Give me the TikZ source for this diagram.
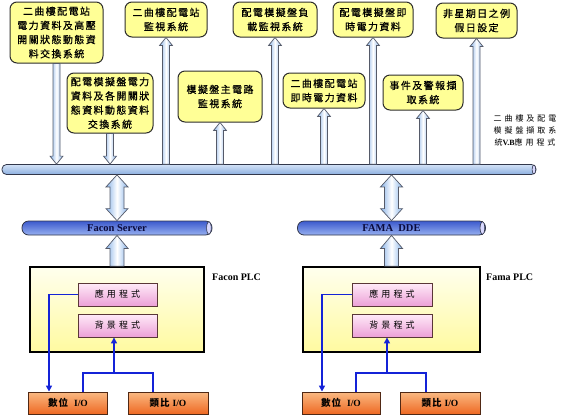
\documentclass[tikz,border=0pt]{standalone}
\usepackage{fontspec}
\setmainfont{Liberation Serif}
\newfontfamily\cjkA[LetterSpace=14,FakeBold=0.6]{Noto Sans CJK TC}
\newfontfamily\cjkS[LetterSpace=37]{Noto Sans CJK TC}
\newfontfamily\cjkP[LetterSpace=35]{Noto Sans CJK TC}
\newfontfamily\cjkO[LetterSpace=10]{Noto Sans CJK TC}
\usetikzlibrary{arrows.meta,calc}
\definecolor{boxyellow}{RGB}{255,255,150}
\definecolor{boxline}{RGB}{45,45,45}
\definecolor{pipeline}{RGB}{50,55,75}
\definecolor{busT}{RGB}{210,226,246}
\definecolor{busB}{RGB}{140,175,224}
\definecolor{srvT}{RGB}{60,90,205}
\definecolor{srvB}{RGB}{150,175,240}
\definecolor{navy}{RGB}{10,10,60}
\definecolor{plcT}{RGB}{255,255,238}
\definecolor{plcB}{RGB}{255,250,160}
\definecolor{progline}{RGB}{90,55,55}
\definecolor{progT}{RGB}{255,235,248}
\definecolor{progB}{RGB}{236,160,215}
\definecolor{ioline}{RGB}{80,40,20}
\definecolor{ioT}{RGB}{250,185,130}
\definecolor{ioB}{RGB}{238,105,35}
\definecolor{arrline}{RGB}{85,90,105}
\definecolor{arrB}{RGB}{135,178,232}
\definecolor{wire}{RGB}{20,35,215}
\newcommand\fatup[5]{\path[fatarr] let \p1=(#1), \p2=(#2) in
  (\x1-#3,\y1) -- (\x1-#3,\y2-#5) -- (\x1-#4,\y2-#5) -- (\x1,\y2) --
  (\x1+#4,\y2-#5) -- (\x1+#3,\y2-#5) -- (\x1+#3,\y1) -- cycle;}
\newcommand\fatdn[5]{\path[fatarr] let \p1=(#1), \p2=(#2) in
  (\x1-#3,\y1) -- (\x1-#3,\y2+#5) -- (\x1-#4,\y2+#5) -- (\x1,\y2) --
  (\x1+#4,\y2+#5) -- (\x1+#3,\y2+#5) -- (\x1+#3,\y1) -- cycle;}
\newcommand\fatboth[5]{\path[fatarr] let \p1=(#1), \p2=(#2) in
  (\x1,\y1) -- (\x1-#4,\y1+#5) -- (\x1-#3,\y1+#5) -- (\x1-#3,\y2-#5) --
  (\x1-#4,\y2-#5) -- (\x1,\y2) -- (\x1+#4,\y2-#5) -- (\x1+#3,\y2-#5) --
  (\x1+#3,\y1+#5) -- (\x1+#4,\y1+#5) -- cycle;}
\tikzset{
  tbox/.style={draw=boxline, line width=1pt, rounded corners=7pt, fill=boxyellow,
    align=center, inner sep=0pt, font=\cjkA\fontsize{10}{14.2}\selectfont},
  pipe/.style={draw=pipeline, line width=0.8pt, inner sep=0pt},
  bus/.style={pipe, rounded corners=4.5pt, top color=busT, bottom color=busB},
  srv/.style={pipe, rounded corners=6.5pt, top color=srvT, bottom color=srvB,
    font=\bfseries\fontsize{10.5}{12}\selectfont, text=navy},
  plc/.style={draw=black, line width=1.8pt, top color=plcT, bottom color=plcB, inner sep=0pt},
  prog/.style={draw=progline, line width=0.9pt, top color=progT, bottom color=progB,
    inner sep=0pt, minimum height=23pt, font=\cjkP\fontsize{9}{11}\selectfont},
  io/.style={draw=ioline, line width=0.9pt, top color=ioT, bottom color=ioB,
    inner sep=0pt, minimum height=22pt, font=\bfseries\fontsize{9.5}{11}\selectfont},
  fatarr/.style={draw=arrline, line width=0.7pt, left color=arrB, right color=arrB, middle color=white},
  bl/.style={draw=wire, line width=1.6pt},
  blarr/.style={bl, -{Triangle[length=6pt,width=6pt]}},
  lbl/.style={font=\bfseries\fontsize{10}{12}\selectfont, anchor=west, inner sep=0pt},
  capend/.style={draw=pipeline, line width=0.6pt, fill=white!85!blue},
}
\begin{document}
\begin{tikzpicture}[x=1pt,y=-1pt]
\useasboundingbox (0,0) rectangle (562,416);
% top boxes
\node[tbox, minimum width=93pt, minimum height=61pt] (A) at (56.5,32.5) {二曲樓配電站\\電力資料及高壓\\開關狀態動態資\\料交換系統};
\node[tbox, minimum width=86pt, minimum height=60pt] (B) at (110,103) {配電模擬盤電力\\資料及各開關狀\\態資料動態資料\\交換系統};
\node[tbox, minimum width=82pt, minimum height=35pt] (C) at (166,19.5) {二曲樓配電站\\監視系統};
\node[tbox, minimum width=84pt, minimum height=35pt] (D) at (275,19.5) {配電模擬盤負\\載監視系統};
\node[tbox, minimum width=80pt, minimum height=35pt] (E) at (373,19.5) {配電模擬盤即\\時電力資料};
\node[tbox, minimum width=81pt, minimum height=35pt] (F) at (476.5,20.5) {非星期日之例\\假日設定};
\node[tbox, minimum width=84pt, minimum height=51pt] (G) at (220,96.5) {模擬盤主電路\\監視系統};
\node[tbox, minimum width=82pt, minimum height=35pt] (H) at (324,90.5) {二曲樓配電站\\即時電力資料};
\node[tbox, minimum width=80pt, minimum height=35pt] (I) at (423,92.5) {事件及警報擷\\取系統};
\node[font=\cjkS\fontsize{8}{12}\selectfont, align=center, inner sep=0pt] (vb) at (525,130) {二曲樓及配電\\模擬盤擷取系\\統{\rmfamily\bfseries V.B}應用程式};
% bus
\node[bus, minimum width=534pt, minimum height=10pt] (bus) at (269,169.5) {};
\draw[capend] ([xshift=-2.5pt]bus.east) ellipse (1.8pt and 4.5pt);
% arrows top
\fatdn{A.south}{A.south |- bus.north}{3.5pt}{6.5pt}{8pt}
\fatdn{B.south}{B.south |- bus.north}{3.5pt}{6.5pt}{8pt}
\fatup{C.south |- bus.north}{C.south}{3.5pt}{6.5pt}{8pt}
\fatup{D.south |- bus.north}{D.south}{3.5pt}{6.5pt}{8pt}
\fatup{E.south |- bus.north}{E.south}{3.5pt}{6.5pt}{8pt}
\fatup{F.south |- bus.north}{F.south}{3.5pt}{6.5pt}{8pt}
\fatup{G.south |- bus.north}{G.south}{3.5pt}{6.5pt}{8pt}
\fatup{H.south |- bus.north}{H.south}{3.5pt}{6.5pt}{8pt}
\fatup{I.south |- bus.north}{I.south}{3.5pt}{6.5pt}{8pt}
% servers
\node[srv, minimum width=190pt, minimum height=14pt] (fs) at (117,228) {Facon Server};
\node[srv, minimum width=188pt, minimum height=14pt] (ms) at (391.5,228) {FAMA\ \ DDE};
\draw[capend] ([xshift=-3.5pt]fs.east) ellipse (2.3pt and 6.5pt);
\draw[capend] ([xshift=-3.5pt]ms.east) ellipse (2.3pt and 6.5pt);
\fatboth{fs.north}{fs.north |- bus.south}{7pt}{11pt}{12pt}
\fatboth{ms.north}{ms.north |- bus.south}{7pt}{11pt}{12pt}
% PLC boxes
\node[plc, minimum width=174pt, minimum height=85pt] (fplc) at (117,309.5) {};
\node[plc, minimum width=177pt, minimum height=85pt] (mplc) at (391.5,309.5) {};
\fatup{fplc.north}{fs.south}{7pt}{11pt}{13pt}
\fatup{mplc.north}{ms.south}{7pt}{11pt}{13pt}
\node[lbl] (fplcl) at (212,277) {Facon PLC};
\node[lbl] (mplcl) at (486,277) {Fama PLC};
\node[prog, minimum width=79pt] (fapp) at (117.5,294.5) {應用程式};
\node[prog, minimum width=79pt] (fbg) at (117.5,325.5) {背景程式};
\node[prog, minimum width=80pt] (mapp) at (392,294.5) {應用程式};
\node[prog, minimum width=80pt] (mbg) at (392,325.5) {背景程式};
% IO boxes
\node[io, minimum width=79pt] (fdig) at (68,403) {{\cjkO 數位}\hspace{6pt}I/O};
\node[io, minimum width=80pt] (fana) at (168,403) {{\cjkO 類比}\hspace{3pt}I/O};
\node[io, minimum width=78pt] (mdig) at (341,403) {{\cjkO 數位}\hspace{6pt}I/O};
\node[io, minimum width=80pt] (mana) at (440,403) {{\cjkO 類比}\hspace{3pt}I/O};
% wires Facon
\coordinate (fL) at (49,294.5);
\coordinate (fa) at (83,373);
\coordinate (fb) at (153,373);
\coordinate (fJ) at (114,373);
\draw[blarr] (fapp.west) -- (fL) -- (fL |- fdig.north);
\draw[bl] (fa |- fdig.north) -- (fa) -- (fb) -- (fb |- fana.north);
\draw[blarr] (fJ) -- (fJ |- fbg.south);
% wires Fama
\coordinate (mL) at (322,294.5);
\coordinate (ma) at (356,373);
\coordinate (mb) at (426,373);
\coordinate (mJ) at (387,373);
\draw[blarr] (mapp.west) -- (mL) -- (mL |- mdig.north);
\draw[bl] (ma |- mdig.north) -- (ma) -- (mb) -- (mb |- mana.north);
\draw[blarr] (mJ) -- (mJ |- mbg.south);
\end{tikzpicture}
\end{document}
